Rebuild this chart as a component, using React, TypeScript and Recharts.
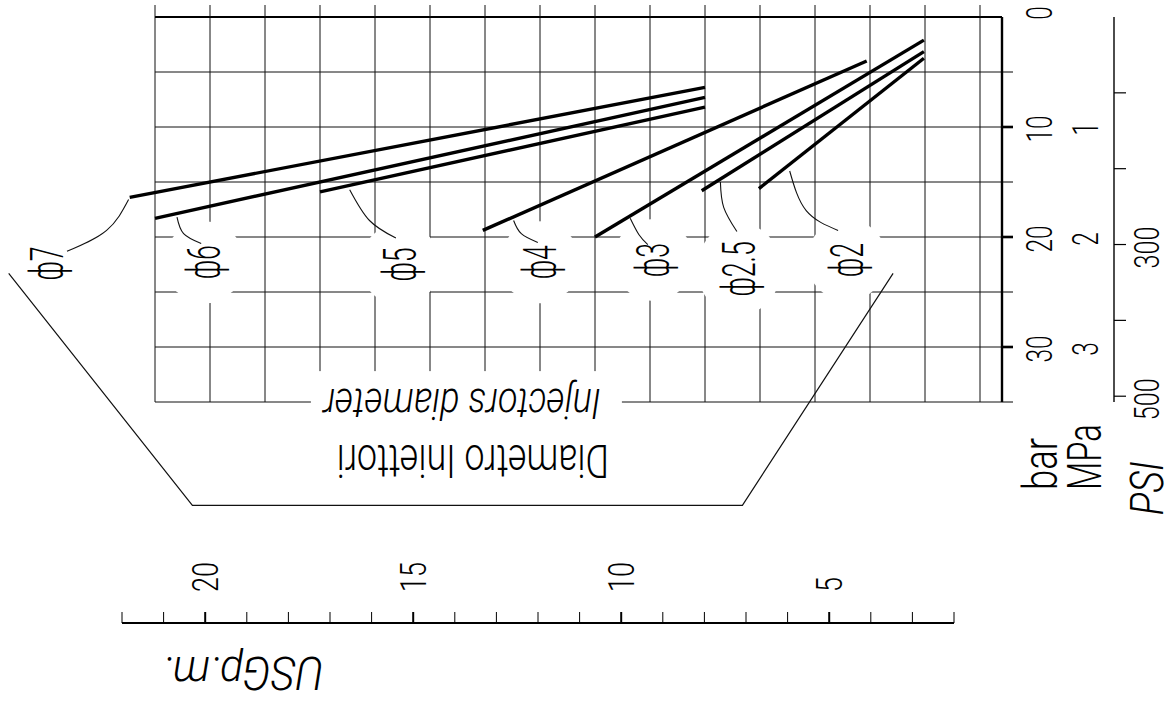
import React from 'react';
import { ComposedChart, Line, Scatter, XAxis, YAxis, CartesianGrid } from 'recharts';

const W = 1175;
const H = 701;
const FONT = "'Roboto Light', 'Lato Light', Roboto, 'Liberation Sans', sans-serif";

// injector diameters, one curve each
const sizes = ['ϕ7', 'ϕ6', 'ϕ5', 'ϕ4', 'ϕ3', 'ϕ2.5', 'ϕ2'];
// flow in l/min (axis runs right to left) and pressure in bar at both ends of every curve
const startFlow = [82.3, 80, 65, 50.2, 40, 30.3, 25.1];
const startBar = [16.4, 18.3, 15.9, 19.4, 20, 15.8, 15.6];
const endFlow = [30, 30, 30, 15.3, 10.1, 10.1, 10.1];
const endBar = [6.4, 7.3, 8.2, 4.0, 2.1, 3.15, 3.75];

// thin leader lines from each curve to its label
const leaderFlow = [
  [82.4, 84.4, 88.0],
  [78.0, 77.4, 75.8],
  [62.3, 60.5, 58.1],
  [47.4, 46.7, 45.2],
  [36.8, 36.0, 35.2],
  [28.6, 28.3, 27.1],
  [22.3, 20.8, 17.9],
];
const leaderBar = [
  [16.6, 19.4, 21.3],
  [18.2, 19.7, 20.6],
  [15.7, 18.5, 20.1],
  [18.5, 19.7, 20.5],
  [18.3, 19.8, 20.7],
  [15.0, 17.3, 19.5],
  [14.0, 17.6, 19.4],
];
const labelFlow = [89.8, 75.5, 57.7, 45, 34.7, 26.9, 17.1];
const labelBar = [22.4, 22.3, 22.5, 22.3, 22.1, 22.9, 22.1];

// bracket round the legend text
const bracketFlow = [93.3, 76.6, 26.6, 12.9];
const bracketBar = [23.3, 44.4, 44.4, 23.3];

const titles = ['Injectors diameter', 'Diametro Iniettori', 'USGp.m.'];
const titleFlow = [52.1, 51.1, 72];
const titleBar = [35.1, 40.3, 59.6];

const units = ['bar', 'MPa', 'PSI'];
const unitFlow = [-0.45, -4.5, -10.2];
const unitBar = [43, 43, 45.3];

const flowTicks = [5, 10, 15, 20, 25, 30, 35, 40, 45, 50, 55, 60, 65, 70, 75, 80];
const barTicks = [0, 5, 10, 15, 20, 25, 30, 35];
const psiTicks = [100, 200, 300, 400, 500];
const psiLabels = [300, 500];
const gpmTicks = [2, 3, 4, 5, 6, 7, 8, 9, 10, 11, 12, 13, 14, 15, 16, 17, 18, 19, 20, 21, 22];

const gridRows = flowTicks.map((l) => ({ l }));
const gpmRows = gpmTicks.map((g) => ({ g }));
const curves = sizes.map((_, i) => [
  { l: startFlow[i], bar: startBar[i] },
  { l: endFlow[i], bar: endBar[i] },
]);
const leaders = sizes.map((_, i) => leaderFlow[i].map((l, j) => ({ l, bar: leaderBar[i][j] })));
const labels = sizes.map((name, i) => ({ l: labelFlow[i], bar: labelBar[i], name }));
const bracket = bracketFlow.map((l, i) => ({ l, bar: bracketBar[i] }));
const titlePoints = titles.map((name, i) => ({ l: titleFlow[i], bar: titleBar[i], name, i }));
const unitPoints = units.map((name, i) => ({ l: unitFlow[i], bar: unitBar[i], name, i }));

type TextProps = {
  x: number;
  y: number;
  text: string;
  size: number;
  sx: number;
  angle: number;
  anchor?: 'start' | 'middle' | 'end';
  italic?: boolean;
};

const RText = ({ x, y, text, size, sx, angle, anchor = 'middle', italic }: TextProps) => (
  <text
    transform={`translate(${x},${y}) rotate(${angle}) scale(${sx},1)`}
    textAnchor={anchor}
    dominantBaseline="central"
    fontFamily={FONT}
    fontWeight={300}
    fontStyle={italic ? 'italic' : 'normal'}
    fontSize={size}
    fill="#000"
  >
    {text}
  </text>
);

const NoTick = () => <g />;

const BarTick = (props: any) => {
  const { x, y, payload } = props;
  const v = payload.value as number;
  const major = v % 10 === 0 && v < 35;
  return (
    <g>
      {v > 0 && <line x1={x} x2={x + 11} y1={y} y2={y} stroke="#000" strokeWidth={major ? 2.6 : 1} />}
      {major && <RText x={x + 38} y={y + (v === 0 ? -4 : 2)} text={String(v)} size={36} sx={0.68} angle={-90} />}
      {major && v > 0 && <RText x={x + 84} y={y + 2} text={String(v / 10)} size={36} sx={0.68} angle={-90} />}
    </g>
  );
};

const PsiTick = (props: any) => {
  const { x, y, payload } = props;
  if (!psiLabels.includes(payload.value)) return <g />;
  return <RText x={x + 21} y={y + 3} text={String(payload.value)} size={36} sx={0.7} angle={-90} />;
};

const GpmTick = (props: any) => {
  const { x, y, payload } = props;
  const v = payload.value as number;
  const major = v % 5 === 0;
  return (
    <g>
      <line x1={x} x2={x} y1={y} y2={y - 11} stroke="#000" strokeWidth={major ? 2 : 1} />
      {major && <RText x={x} y={y - 31} text={String(v)} size={36} sx={0.75} angle={-90} anchor="start" />}
    </g>
  );
};

const LabelMask = (props: any) => {
  const { cx, cy, payload } = props;
  const wide = payload.name.length > 2;
  return <ellipse cx={cx} cy={cy} rx={wide ? 42 : 40} ry={wide ? 46 : 41} fill="#fff" />;
};

const LabelText = (props: any) => {
  const { cx, cy, payload } = props;
  return <RText x={cx} y={cy} text={payload.name} size={46} sx={0.58} angle={-90} />;
};

const titleStyle = [
  { size: 42, sx: 0.86, italic: true },
  { size: 46, sx: 0.78, italic: false },
  { size: 46, sx: 0.94, italic: true },
];

const TitleShape = (props: any) => {
  const { cx, cy, payload } = props;
  const s = titleStyle[payload.i];
  return (
    <g>
      {payload.i === 0 && <rect x={cx - 151} y={cy - 32} width={311} height={60} fill="#fff" />}
      <RText x={cx} y={cy} text={payload.name} size={s.size} sx={s.sx} angle={180} italic={s.italic} />
    </g>
  );
};

const unitStyle = [
  { size: 48, sx: 0.76, italic: false },
  { size: 48, sx: 0.68, italic: false },
  { size: 46, sx: 0.82, italic: true },
];

const UnitShape = (props: any) => {
  const { cx, cy, payload } = props;
  const s = unitStyle[payload.i];
  return <RText x={cx} y={cy} text={payload.name} size={s.size} sx={s.sx} angle={-90} anchor="start" italic={s.italic} />;
};

const layer: React.CSSProperties = { position: 'absolute', left: 0, top: 0 };

export default function App() {
  return (
    <div style={{ position: 'absolute', left: 0, top: 0, width: W, height: H, background: '#fff' }}>
      {/* grid and pressure axes */}
      <div style={layer}>
        <ComposedChart width={W} height={H} data={gridRows} margin={{ top: 5, right: 0, bottom: 299, left: 155 }}>
          <CartesianGrid xAxisId="flow" yAxisId="bar" stroke="#111" strokeWidth={1} />
          <XAxis
            xAxisId="flow"
            dataKey="l"
            type="number"
            orientation="top"
            domain={[3, 80]}
            reversed
            allowDataOverflow
            ticks={flowTicks}
            interval={0}
            height={12}
            tickSize={12}
            tickLine={{ stroke: '#111' }}
            axisLine={{ stroke: '#000', strokeWidth: 2.2 }}
            tick={NoTick}
          />
          <YAxis
            yAxisId="bar"
            orientation="right"
            type="number"
            domain={[0, 35]}
            reversed
            allowDataOverflow
            ticks={barTicks}
            interval={0}
            width={112}
            tickSize={0}
            tickMargin={0}
            tickLine={false}
            axisLine={{ stroke: '#000', strokeWidth: 2.4 }}
            tick={BarTick}
          />
          <YAxis
            yAxisId="psi"
            orientation="right"
            type="number"
            domain={[0, 35 * 14.5038]}
            reversed
            allowDataOverflow
            ticks={psiTicks}
            interval={0}
            width={61}
            tickSize={12}
            tickMargin={0}
            tickLine={{ stroke: '#000', strokeWidth: 1.2 }}
            axisLine={{ stroke: '#000', strokeWidth: 1.4 }}
            tick={PsiTick}
          />
        </ComposedChart>
      </div>

      {/* flow axis in US gallons per minute */}
      <div style={layer}>
        <ComposedChart width={W} height={H} data={gpmRows} margin={{ top: 563, right: 221, bottom: 40, left: 122 }}>
          <XAxis
            xAxisId="gpm"
            dataKey="g"
            type="number"
            orientation="top"
            domain={[2, 22]}
            reversed
            allowDataOverflow
            ticks={gpmTicks}
            interval={0}
            height={60}
            tickSize={0}
            tickMargin={0}
            tickLine={false}
            axisLine={{ stroke: '#000', strokeWidth: 2.2 }}
            tick={GpmTick}
          />
          <YAxis yAxisId="gpmY" hide domain={[0, 1]} />
        </ComposedChart>
      </div>

      {/* curves, labels and notes */}
      <div style={layer}>
        <ComposedChart width={W} height={H} margin={{ top: 0, right: 0, bottom: 0, left: 0 }}>
          <XAxis xAxisId="f" dataKey="l" type="number" domain={[-12.7273, 94.0909]} reversed allowDataOverflow hide />
          <YAxis yAxisId="p" dataKey="bar" type="number" domain={[-1.5455, 62.1818]} reversed allowDataOverflow hide />
          <Scatter
            xAxisId="f"
            yAxisId="p"
            data={labels}
            dataKey="bar"
            shape={LabelMask}
            isAnimationActive={false}
            zIndex={0}
          />
          {curves.map((d, i) => (
            <Line
              key={'c' + i}
              xAxisId="f"
              yAxisId="p"
              data={d}
              dataKey="bar"
              type="linear"
              stroke="#000"
              strokeWidth={3.4}
              dot={false}
              activeDot={false}
              isAnimationActive={false}
            />
          ))}
          {leaders.map((d, i) => (
            <Line
              key={'ld' + i}
              xAxisId="f"
              yAxisId="p"
              data={d}
              dataKey="bar"
              type="natural"
              stroke="#111"
              strokeWidth={1.1}
              dot={false}
              activeDot={false}
              isAnimationActive={false}
            />
          ))}
          <Line
            xAxisId="f"
            yAxisId="p"
            data={bracket}
            dataKey="bar"
            type="linear"
            stroke="#111"
            strokeWidth={1.2}
            dot={false}
            activeDot={false}
            isAnimationActive={false}
          />
          <Scatter xAxisId="f" yAxisId="p" data={labels} dataKey="bar" shape={LabelText} isAnimationActive={false} />
          <Scatter xAxisId="f" yAxisId="p" data={titlePoints} dataKey="bar" shape={TitleShape} isAnimationActive={false} />
          <Scatter xAxisId="f" yAxisId="p" data={unitPoints} dataKey="bar" shape={UnitShape} isAnimationActive={false} />
        </ComposedChart>
      </div>
    </div>
  );
}
